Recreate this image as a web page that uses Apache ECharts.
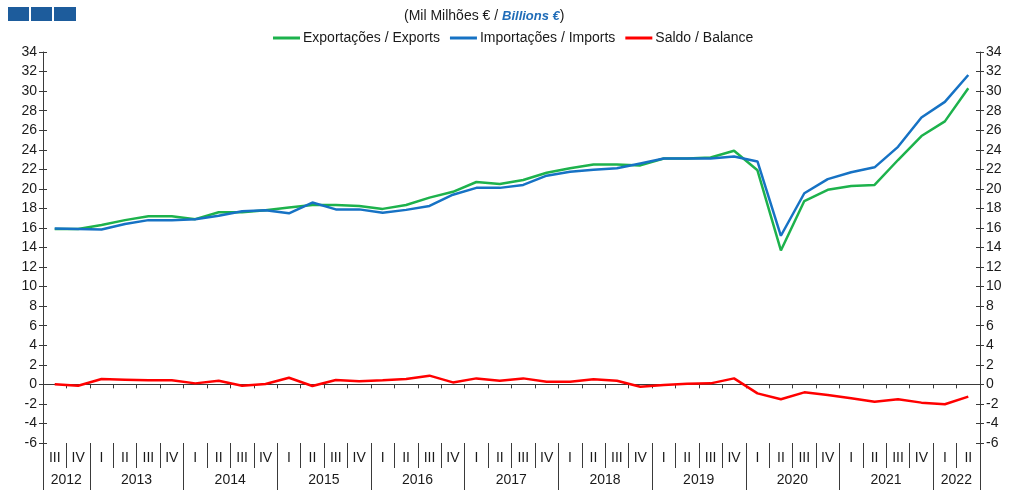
<!DOCTYPE html>
<html>
<head>
<meta charset="utf-8">
<script src="https://cdn.jsdelivr.net/npm/echarts@6/dist/echarts.min.js"></script>
<style>
  html, body { margin: 0; padding: 0; background: #fff; }
  #chart { width: 1009px; height: 490px; }
</style>
</head>
<body>
<div id="chart"></div>
<script>
// quarters 2012 III .. 2022 II
var quarters = ['III', 'IV',
  'I', 'II', 'III', 'IV', 'I', 'II', 'III', 'IV', 'I', 'II', 'III', 'IV',
  'I', 'II', 'III', 'IV', 'I', 'II', 'III', 'IV', 'I', 'II', 'III', 'IV',
  'I', 'II', 'III', 'IV', 'I', 'II', 'III', 'IV', 'I', 'II', 'III', 'IV',
  'I', 'II'];
var years = ['2012', '2013', '2014', '2015', '2016', '2017', '2018', '2019', '2020', '2021', '2022'];
var quartersPerYear = [2, 4, 4, 4, 4, 4, 4, 4, 4, 4, 2];

var exports = [15.9, 15.9, 16.3, 16.8, 17.2, 17.2, 16.9, 17.6, 17.6, 17.8,
  18.1, 18.35, 18.35, 18.25, 17.95, 18.35, 19.1, 19.7, 20.7, 20.5,
  20.9, 21.65, 22.1, 22.5, 22.5, 22.4, 23.1, 23.1, 23.2, 23.9,
  21.9, 13.7, 18.75, 19.9, 20.3, 20.4, 22.95, 25.4, 26.9, 30.3];
var imports = [15.95, 15.9, 15.85, 16.4, 16.8, 16.8, 16.9, 17.25, 17.7, 17.8,
  17.5, 18.6, 17.9, 17.9, 17.55, 17.85, 18.25, 19.4, 20.1, 20.1,
  20.4, 21.35, 21.75, 21.95, 22.1, 22.6, 23.1, 23.1, 23.1, 23.3,
  22.8, 15.2, 19.55, 21.0, 21.7, 22.2, 24.3, 27.3, 28.9, 31.65];
var balance = [0.0, -0.14, 0.55, 0.48, 0.41, 0.41, 0.1, 0.37, -0.14, 0.03,
  0.68, -0.17, 0.44, 0.31, 0.41, 0.55, 0.89, 0.2, 0.61, 0.37,
  0.61, 0.27, 0.27, 0.51, 0.37, -0.24, -0.07, 0.07, 0.1, 0.61,
  -0.92, -1.53, -0.82, -1.09, -1.43, -1.77, -1.53, -1.87, -2.04, -1.26];

// year boundaries and year label slots on the quarter axis
var yearStart = {};
var yearLabels = quarters.map(function () { return ''; });
var pos = 0;
years.forEach(function (y, i) {
  yearStart[pos] = true;
  yearLabels[pos + quartersPerYear[i] / 2 - 1] = y;
  pos += quartersPerYear[i];
});

var font = 'Liberation Sans, Arial, sans-serif';
var fs = 14;
var axisColor = '#3a3a3a';
var textColor = '#1a1a1a';

var chart = echarts.init(document.getElementById('chart'), null, { renderer: 'canvas' });

function yAx(position, showLabel, inside) {
  return {
    type: 'value', position: position, min: -6, max: 34, interval: 2,
    splitLine: { show: false },
    axisLine: { show: showLabel, lineStyle: { color: axisColor, width: 1 } },
    axisTick: { show: true, inside: inside, length: 4, lineStyle: { color: axisColor } },
    axisLabel: { show: showLabel, fontFamily: font, fontSize: fs, color: textColor, margin: 6 }
  };
}

var option = {
  animation: false,
  backgroundColor: '#fff',
  title: {
    left: 399, top: 4,
    text: '(Mil Milhões € / {b|Billions €})',
    textStyle: {
      fontFamily: font, fontSize: fs, fontWeight: 'normal', color: textColor,
      rich: { b: { fontFamily: font, fontSize: 13, fontWeight: 'bold', fontStyle: 'italic', color: '#1f6cb8' } }
    }
  },
  graphic: [
    { type: 'rect', shape: { x: 8, y: 7, width: 21, height: 14 }, style: { fill: '#1d5c9c' } },
    { type: 'rect', shape: { x: 31, y: 7, width: 21, height: 14 }, style: { fill: '#1d5c9c' } },
    { type: 'rect', shape: { x: 54, y: 7, width: 22, height: 14 }, style: { fill: '#1d5c9c' } }
  ],
  legend: {
    top: 26, left: 268, itemWidth: 27, itemHeight: 3, itemGap: 10,
    icon: 'rect',
    textStyle: { fontFamily: font, fontSize: fs, color: textColor, padding: [0, 0, 0, -2] },
    data: ['Exportações / Exports', 'Importações / Imports', 'Saldo / Balance']
  },
  grid: { left: 43, right: 29, top: 52, bottom: 47 },
  xAxis: [
    {
      type: 'category', data: quarters, position: 'bottom', boundaryGap: true,
      axisLine: { onZero: true, lineStyle: { color: axisColor, width: 1 } },
      axisTick: { show: true, interval: 0, length: 4, lineStyle: { color: axisColor } },
      axisLabel: { show: false }
    },
    {
      type: 'category', data: quarters, position: 'bottom', boundaryGap: true,
      axisLine: { show: false, onZero: false },
      axisTick: { show: true, interval: 0, length: 25, lineStyle: { color: axisColor } },
      axisLabel: { interval: 0, margin: 8, fontFamily: font, fontSize: fs, color: textColor }
    },
    {
      type: 'category', data: yearLabels, position: 'bottom', boundaryGap: true,
      axisLine: { show: false, onZero: false },
      axisTick: {
        show: true, length: 48, lineStyle: { color: axisColor },
        interval: function (index) { return !!yearStart[index]; }
      },
      axisLabel: {
        interval: 0, margin: 30, fontFamily: font, fontSize: fs, color: textColor,
        padding: [0, 0, 0, 23]
      }
    }
  ],
  yAxis: [
    yAx('left', true, false),
    yAx('right', true, false),
    yAx('left', false, true),
    yAx('right', false, true)
  ],
  series: [
    {
      name: 'Exportações / Exports', type: 'line', data: exports,
      symbol: 'none', color: '#1db24c', lineStyle: { width: 2.5, color: '#1db24c' }
    },
    {
      name: 'Importações / Imports', type: 'line', data: imports,
      symbol: 'none', color: '#1672c4', lineStyle: { width: 2.5, color: '#1672c4' }
    },
    {
      name: 'Saldo / Balance', type: 'line', data: balance,
      symbol: 'none', color: '#ff0000', lineStyle: { width: 2.5, color: '#ff0000' }
    }
  ]
};

chart.setOption(option);
</script>
</body>
</html>
